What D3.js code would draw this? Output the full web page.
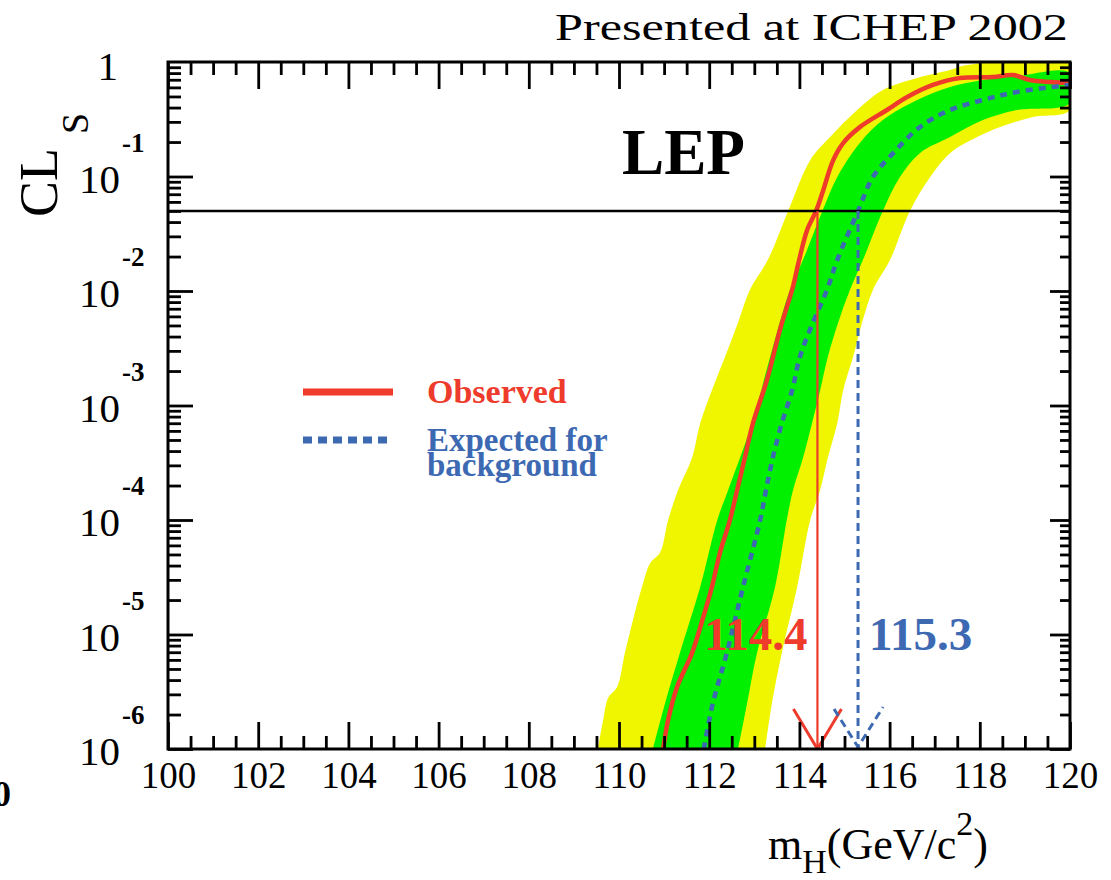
<!DOCTYPE html>
<html lang="en">
<head>
<meta charset="UTF-8">
<title>LEP CLs versus Higgs mass</title>
<script src="https://d3js.org/d3.v7.min.js"></script>
<style>
  body, html { margin: 0; background: #fff; }
  svg { display: block; }
  text { font-family: 'Liberation Serif', 'Times New Roman', serif; fill: #000; }
</style>
</head>
<body>
<svg id="chart" width="1111" height="880"></svg>
<script>
// [mH (GeV/c^2), CLs]
const yellowUp = [[109.53,1.0e-6],[109.65,1.8e-6],[109.76,2.8e-6],[109.96,3.5e-6],[110.13,6.9e-6],
  [110.31,1.34e-5],[110.51,2.6e-5],[110.69,4.2e-5],[110.91,5.2e-5],[111.09,1.0e-4],[111.31,1.83e-4],
  [111.62,3.5e-4],[111.80,7.0e-4],[112.06,1.36e-3],[112.35,2.65e-3],[112.64,5.3e-3],[112.90,1.02e-2],
  [113.30,1.87e-2],[113.75,5.0e-2],[114.24,0.139],[114.68,0.221],[115.28,0.381],[115.85,0.569],
  [116.61,0.724],[117.34,0.851],[117.72,0.942],[120.00,0.95]];
const yellowLo = [[113.24,1.0e-6],[113.39,2.5e-6],[113.61,6.9e-6],[113.95,2.6e-5],[114.24,1.0e-4],
  [114.46,1.83e-4],[114.63,3.5e-4],[114.84,7.0e-4],[114.97,1.36e-3],[115.19,2.65e-3],[115.39,5.3e-3],
  [115.63,1.02e-2],[116.01,1.87e-2],[116.45,5.0e-2],[116.90,9.9e-2],[117.34,0.160],[117.94,0.221],
  [118.45,0.270],[119.18,0.331],[120.00,0.381]];
const greenUp = [[110.75,1.0e-6],[111.02,2.5e-6],[111.35,6.9e-6],[111.80,2.6e-5],[112.18,1.0e-4],
  [112.42,1.83e-4],[112.95,7.0e-4],[113.35,2.65e-3],[113.79,1.02e-2],[114.08,1.87e-2],[114.51,5.0e-2],
  [114.84,9.9e-2],[115.34,0.196],[115.85,0.311],[116.61,0.466],[117.34,0.605],[118.07,0.697],
  [118.82,0.75],[120.00,0.80]];
const greenLo = [[112.64,1.0e-6],[112.84,2.5e-6],[113.06,6.9e-6],[113.46,2.6e-5],[113.72,1.0e-4],
  [113.86,1.83e-4],[114.08,3.5e-4],[114.28,7.0e-4],[114.46,1.36e-3],[114.63,2.65e-3],[114.86,5.3e-3],
  [115.12,1.02e-2],[115.41,1.87e-2],[115.85,5.0e-2],[116.23,9.9e-2],[116.67,0.160],[117.34,0.221],
  [118.07,0.311],[118.82,0.381],[120.00,0.439]];
const observed = [[110.98,1.0e-6],[111.09,1.8e-6],[111.29,3.5e-6],[111.62,6.9e-6],[111.85,1.34e-5],
  [112.06,2.6e-5],[112.24,5.2e-5],[112.46,1.0e-4],[112.62,1.83e-4],[112.79,3.5e-4],[112.97,7.0e-4],
  [113.28,1.67e-3],[113.57,4.6e-3],[113.86,1.1e-2],[113.97,1.7e-2],[114.17,3.4e-2],[114.37,5.0e-2],
  [114.51,7.2e-2],[114.75,0.139],[114.97,0.196],[115.34,0.270],[115.94,0.381],[116.39,0.494],
  [116.96,0.630],[117.56,0.724],[118.29,0.740],[118.74,0.769],[119.11,0.697],[120.00,0.656]];
const expected = [[111.88,1.0e-6],[112.08,2.5e-6],[112.39,6.9e-6],[112.75,2.6e-5],[113.13,1.0e-4],
  [113.26,1.83e-4],[113.41,3.5e-4],[113.61,7.0e-4],[113.84,1.36e-3],[114.01,2.65e-3],[114.30,5.3e-3],
  [114.61,1.02e-2],[114.84,1.87e-2],[115.30,5.0e-2],[115.63,9.9e-2],[116.08,0.160],[116.67,0.270],
  [117.34,0.381],[118.07,0.466],[118.82,0.547],[120.00,0.630]];

const xTicks = d3.range(100, 121, 2);
const decades = [-6, -5, -4, -3, -2, -1];
const clsLevel = 0.05;
const obsLimit = 114.4, expLimit = 115.3;

const RED = "#ee3b2c", BLUE = "#3d69b3", YELLOW = "#f0f500", GREEN = "#00f000";

const x = d3.scaleLinear().domain([100, 120]).range([168, 1070]);
const y = d3.scaleLog().domain([1e-6, 1]).range([749, 62]);

const svg = d3.select("#chart");

svg.append("clipPath").attr("id", "clip")
  .append("rect").attr("x", 168).attr("y", 62).attr("width", 902).attr("height", 687);

const plot = svg.append("g").attr("clip-path", "url(#clip)");

const curve = d3.line().x(d => x(d[0])).y(d => y(d[1])).curve(d3.curveCatmullRom.alpha(0.5));
const band = (up, lo) => curve(up.concat(lo.slice().reverse())) + "Z";

plot.append("path").attr("d", band(yellowUp, yellowLo)).attr("fill", YELLOW);
plot.append("path").attr("d", band(greenUp, greenLo)).attr("fill", GREEN);

plot.append("path").datum(observed).attr("d", curve)
  .attr("fill", "none").attr("stroke", RED).attr("stroke-width", 4.5);
plot.append("path").datum(expected).attr("d", curve)
  .attr("fill", "none").attr("stroke", BLUE).attr("stroke-width", 4.5).attr("stroke-dasharray", "7,6");

// 95% CL line
plot.append("line").attr("x1", 168).attr("x2", 1070)
  .attr("y1", y(clsLevel)).attr("y2", y(clsLevel))
  .attr("stroke", "#000").attr("stroke-width", 2.5);

// limit arrows
const yb = y(1e-6);
plot.append("line").attr("x1", x(obsLimit)).attr("x2", x(obsLimit))
  .attr("y1", y(clsLevel)).attr("y2", yb).attr("stroke", RED).attr("stroke-width", 2.2);
plot.append("path")
  .attr("d", `M${x(obsLimit) - 24},${yb - 40}L${x(obsLimit)},${yb}L${x(obsLimit) + 24},${yb - 40}`)
  .attr("fill", "none").attr("stroke", RED).attr("stroke-width", 3);
plot.append("line").attr("x1", x(expLimit)).attr("x2", x(expLimit))
  .attr("y1", y(clsLevel)).attr("y2", yb).attr("stroke", BLUE).attr("stroke-width", 3)
  .attr("stroke-dasharray", "8,5");
plot.append("path")
  .attr("d", `M${x(expLimit) - 24},${yb - 40}L${x(expLimit)},${yb - 2}L${x(expLimit) + 25},${yb - 42}`)
  .attr("fill", "none").attr("stroke", BLUE).attr("stroke-width", 3).attr("stroke-dasharray", "8,5");

// axes (ticks inside the frame)
const xMinor = d3.range(100, 120.01, 0.5).filter(v => v % 2 !== 0);
const yMajor = decades.map(e => Math.pow(10, e));
const yMinor = y.ticks().filter(v => Math.abs(Math.log10(v) - Math.round(Math.log10(v))) > 1e-6);

function styleAxis(g) {
  g.select(".domain").remove();
  g.selectAll(".tick line").attr("stroke", "#000").attr("stroke-width", 2.8);
  g.attr("font-family", null).attr("font-size", null);
}

svg.append("g").attr("transform", "translate(0,749)")
  .call(d3.axisBottom(x).tickValues(xTicks).tickSize(-27).tickPadding(13).tickFormat(d3.format("d")))
  .call(styleAxis)
  .call(g => g.selectAll("text").attr("font-size", 37).attr("fill", "#000"));
svg.append("g").attr("transform", "translate(0,749)")
  .call(d3.axisBottom(x).tickValues(xMinor).tickSize(-13).tickFormat("")).call(styleAxis);
svg.append("g").attr("transform", "translate(0,62)")
  .call(d3.axisTop(x).tickValues(xTicks).tickSize(-27).tickFormat("")).call(styleAxis);
svg.append("g").attr("transform", "translate(0,62)")
  .call(d3.axisTop(x).tickValues(xMinor).tickSize(-13).tickFormat("")).call(styleAxis);
svg.append("g").attr("transform", "translate(168,0)")
  .call(d3.axisLeft(y).tickValues(yMajor).tickSize(-25).tickFormat("")).call(styleAxis);
svg.append("g").attr("transform", "translate(168,0)")
  .call(d3.axisLeft(y).tickValues(yMinor).tickSize(-13).tickFormat("")).call(styleAxis);
svg.append("g").attr("transform", "translate(1070,0)")
  .call(d3.axisRight(y).tickValues(yMajor).tickSize(-20).tickFormat("")).call(styleAxis);
svg.append("g").attr("transform", "translate(1070,0)")
  .call(d3.axisRight(y).tickValues(yMinor).tickSize(-10).tickFormat("")).call(styleAxis);

svg.append("rect").attr("x", 168).attr("y", 62).attr("width", 902).attr("height", 687)
  .attr("fill", "none").attr("stroke", "#000").attr("stroke-width", 3);

// y tick labels 10^e
const yl = svg.append("g");
yl.append("text").attr("x", 118).attr("y", y(1) + 18).attr("text-anchor", "end")
  .attr("font-size", 41).text("1");
yl.selectAll(".base").data(decades).join("text")
  .attr("x", 120).attr("y", e => y(Math.pow(10, e)) + 16).attr("text-anchor", "end")
  .attr("font-size", 41).text("10");
yl.selectAll(".expo").data(decades).join("text")
  .attr("x", 122).attr("y", e => y(Math.pow(10, e)) - 25)
  .attr("font-size", 27).attr("font-weight", "bold").text(e => "-" + Math.abs(e));

// y title
const yt = svg.append("text").attr("transform", "translate(57,217) rotate(-90)").attr("font-size", 54);
yt.append("tspan").text("CL");
yt.append("tspan").attr("dx", 14).attr("dy", 31).attr("font-size", 38).text("S");

// x title
const xt = svg.append("text").attr("x", 768).attr("y", 859).attr("font-size", 44);
xt.append("tspan").text("m");
xt.append("tspan").attr("dy", 14).attr("font-size", 34).text("H");
xt.append("tspan").attr("dy", -14).text("(GeV/c");
xt.append("tspan").attr("dy", -24).attr("font-size", 34).text("2");
xt.append("tspan").attr("dy", 24).text(")");

// header and labels
svg.append("text").attr("x", 1068).attr("y", 40).attr("text-anchor", "end")
  .attr("font-size", 38).attr("textLength", 513).attr("lengthAdjust", "spacingAndGlyphs")
  .text("Presented at ICHEP 2002");
svg.append("text").attr("x", 622).attr("y", 174).attr("font-size", 66).attr("font-weight", "bold")
  .attr("textLength", 123).attr("lengthAdjust", "spacingAndGlyphs").text("LEP");
svg.append("text").attr("x", 11).attr("y", 806).attr("text-anchor", "end")
  .attr("font-size", 36).attr("font-weight", "bold").text("0");

svg.append("text").attr("x", x(obsLimit) - 10).attr("y", 650).attr("text-anchor", "end")
  .attr("font-size", 47).attr("font-weight", "bold").style("fill", RED).text("114.4");
svg.append("text").attr("x", x(expLimit) + 11).attr("y", 650)
  .attr("font-size", 47).attr("font-weight", "bold").style("fill", BLUE).text("115.3");

// legend
const lg = svg.append("g");
lg.append("line").attr("x1", 303).attr("x2", 393).attr("y1", 392).attr("y2", 392)
  .attr("stroke", RED).attr("stroke-width", 7);
lg.append("line").attr("x1", 303).attr("x2", 393).attr("y1", 440).attr("y2", 440)
  .attr("stroke", BLUE).attr("stroke-width", 7).attr("stroke-dasharray", "9,6");
lg.append("text").attr("x", 427).attr("y", 403).attr("font-size", 34).attr("font-weight", "bold")
  .style("fill", RED).text("Observed");
lg.append("text").attr("x", 427).attr("y", 451).attr("font-size", 33).attr("font-weight", "bold")
  .style("fill", BLUE).text("Expected for");
lg.append("text").attr("x", 427).attr("y", 476).attr("font-size", 33).attr("font-weight", "bold")
  .style("fill", BLUE).text("background");
</script>
</body>
</html>
